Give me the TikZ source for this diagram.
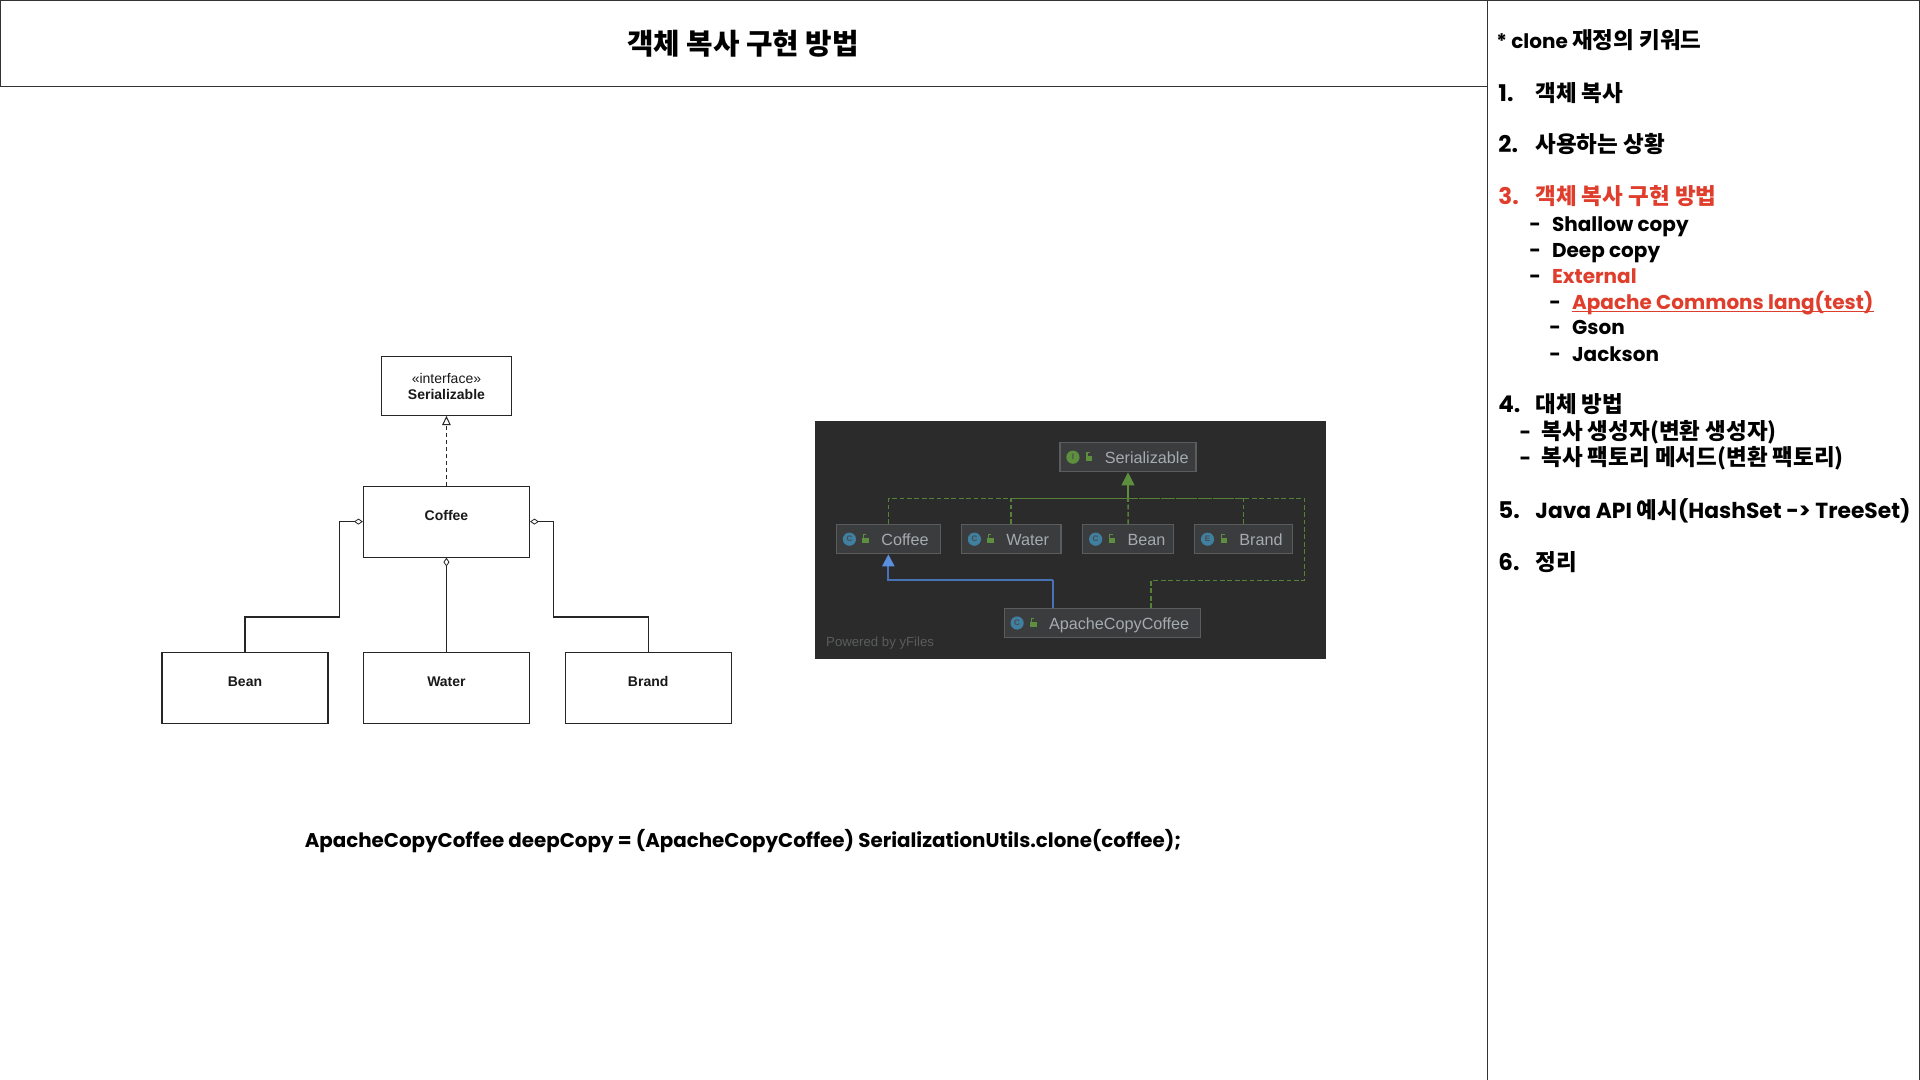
\documentclass[tikz,border=0pt]{standalone}
\usepackage{fontspec}
\usetikzlibrary{arrows.meta}
\setmainfont{Poppins}
\newfontfamily\krfont{Noto Sans CJK KR}
\newfontfamily\umlfont{Liberation Sans}
\newcommand{\kr}[1]{{\krfont\fontsize{11.25}{13}\selectfont\bfseries #1}}
\definecolor{hot}{HTML}{E03E2D}
\definecolor{panel}{HTML}{2B2B2B}
\definecolor{ijfill}{HTML}{3B3C3D}
\definecolor{ijline}{HTML}{5A5C5D}
\definecolor{ijtext}{HTML}{A4ABB2}
\definecolor{ijgreen}{HTML}{5E8F3F}
\definecolor{ijblue}{HTML}{5A8FE0}
\definecolor{ijcirc}{HTML}{3F7F9F}
\tikzset{
  listtext/.style={anchor=base west,inner sep=0,font=\fontsize{10}{12}\selectfont\bfseries},
  numtext/.style={listtext,font=\fontsize{11.5}{13}\selectfont\bfseries},
  widetext/.style={listtext,font=\fontsize{10.9}{13}\selectfont\bfseries},
  codetext/.style={anchor=center,inner sep=0,font=\fontsize{9.92}{12}\selectfont\bfseries},
  ubox/.style={draw=black!85,line width=.6pt,fill=white,inner sep=0,minimum height=35.5pt,minimum width=83pt},
  ulabel/.style={inner sep=0,font=\umlfont\fontsize{7}{8.4}\selectfont\bfseries,text=black!90,align=center},
  uline/.style={draw=black!85,line width=.6pt},
  aggr/.style={uline,-{Diamond[open,length=4.4pt,width=3pt,line width=.4pt]}},
  realize/.style={uline,dashed,dash pattern=on 2pt off 1.5pt,-{Triangle[open,length=4.6pt,width=4.2pt,line width=.5pt,fill=white]}},
  ijbox/.style={draw=ijline,fill=ijfill,line width=.6pt,inner sep=0,minimum height=14.5pt},
  ijlabel/.style={anchor=base west,inner sep=0,text=ijtext,font=\umlfont\fontsize{8.1}{9}\selectfont},
  ijdash/.style={draw=ijgreen!90!black,line width=.8pt,dash pattern=on 2.4pt off 1.3pt},
  ijicon/.style={circle,fill=#1,inner sep=0,minimum size=6.6pt,text=black!70,font=\umlfont\fontsize{4}{4}\selectfont\bfseries},
}
\newcommand{\ijnode}[7]{%
  % id, cx, cy, width, text, letter, icon colour
  \node[ijbox,minimum width=#4*.5pt] (#1) at (#2,#3) {};
  \begin{scope}[shift={(#1.west)}]
    \node[ijicon=#7] (#1icon) at (13.5,0) {#6};
    \fill[ijgreen] (26.5,-1.5) rectangle (33,4);
    \draw[ijgreen,line width=.6pt] (27.5,-1.5) -- (27.5,-4.5) -- (30.5,-4.5);
    \node[ijlabel] (#1text) at (45,6) {#5};
  \end{scope}
}
\begin{document}
\begin{tikzpicture}[x=.5pt,y=-.5pt]
\useasboundingbox (0,0) rectangle (1920,1080);
\fill[white] (0,0) rectangle (1920,1080);
% frames
\draw[black!80,line width=.5pt] (0,.5) rectangle (1487,87);
\draw[black!80,line width=.5pt] (1919.5,1081) -- (1919.5,.5) -- (1487,.5) -- (1487,1081);
\node[inner sep=0] (title) at (743,44) {\krfont\fontsize{14.4}{16}\selectfont\bfseries 객체 복사 구현 방법};

% UML
\node[ubox,minimum width=65.2pt,minimum height=29.5pt] (ser) at (446.45,385.7) {};
\node[ulabel] (serstereo) at (446.45,378.4) {\umlfont\fontsize{7}{8.4}\selectfont\mdseries «interface»};
\node[ulabel] (sername) at (446.45,394.3) {Serializable};
\node[ubox] (coffee) at (446.45,521.6) {};
\node[ulabel] (coffeename) at (446.45,515.5) {Coffee};
\node[ubox] (bean) at (245,688) {};
\node[ulabel] (beanname) at (245,681.8) {Bean};
\node[ubox] (water) at (446.45,688) {};
\node[ulabel] (watername) at (446.45,681.8) {Water};
\node[ubox] (brand) at (648.2,688) {};
\node[ulabel] (brandname) at (648.2,681.8) {Brand};
\coordinate (elbowL) at (339.7,617);
\coordinate (elbowR) at (553.2,617);
\draw[realize] (coffee.north) -- (ser.south);
\draw[aggr] (water.north) -- (coffee.south);
\draw[aggr] (bean.north) |- (elbowL) |- (coffee.west);
\draw[aggr] (brand.north) |- (elbowR) |- (coffee.east);

% IDE panel
\fill[panel] (814.8,421.4) rectangle (1325.5,659);
\ijnode{jser}{1128}{457.2}{136}{Serializable}{I}{ijgreen}
\ijnode{jcoffee}{888.35}{539.2}{103.7}{Coffee}{C}{ijcirc}
\ijnode{jwater}{1011.25}{539.2}{99.5}{Water}{C}{ijcirc}
\ijnode{jbean}{1128.15}{539.2}{90.9}{Bean}{C}{ijcirc}
\ijnode{jbrand}{1243.5}{539.2}{97.8}{Brand}{E}{ijcirc}
\ijnode{japache}{1102.15}{623}{195.9}{ApacheCopyCoffee}{C}{ijcirc}
\node[anchor=base west,inner sep=0,text=ijline,font=\umlfont\fontsize{6.6}{8}\selectfont] (yfiles) at (825.8,646) {Powered by yFiles};
\coordinate (hub) at (1128,498.4);
\coordinate (farR) at (1304.5,498.4);
\coordinate (farD) at (1304.5,580.4);
\coordinate (apacheUp) at (1151.2,580.4);
\coordinate (blueUp) at (1053.4,580.4);
\draw[ijdash] (jcoffee.north) |- (hub);
\draw[ijdash] (jwater.north) |- (hub);
\draw[ijdash] (jbean.north) -- (hub);
\draw[ijdash] (jbrand.north) |- (hub);
\draw[ijdash] (apacheUp |- japache.north) -- (apacheUp) -- (farD) -- (farR) -- (hub);
\draw[ijgreen,line width=.8pt,-{Triangle[length=6.5pt,width=6.4pt]}] (hub) -- (jser.south);
\draw[ijblue!80!black,line width=1pt] (blueUp |- japache.north) -- (blueUp);
\draw[ijblue!80!black,line width=1pt,-{Triangle[length=6pt,width=6pt,color=ijblue]}] (blueUp) -| (jcoffee.south);

% keyword list
\node[listtext] (l0a) at (1496,49) {* clone \kr{재정의 키워드}};
\node[numtext] (l1n) at (1498,101.7) {1.};
\node[listtext] (l1) at (1535,101.7) {\kr{객체 복사}};
\node[numtext] (l2n) at (1498,153) {2.};
\node[listtext] (l2) at (1535,153) {\kr{사용하는 상황}};
\node[numtext,text=hot] (l3n) at (1498,205) {3.};
\node[listtext,text=hot] (l3) at (1535,205) {\kr{객체 복사 구현 방법}};
\node[listtext] (d1) at (1529,231.7) {-};
\node[listtext] (s1) at (1551.7,231.7) {Shallow copy};
\node[listtext] (d2) at (1529,257.7) {-};
\node[listtext] (s2) at (1551.7,257.7) {Deep copy};
\node[listtext] (d3) at (1529,283.3) {-};
\node[listtext,text=hot] (s3) at (1551.7,283.3) {External};
\node[listtext] (d4) at (1549,309.3) {-};
\node[listtext,text=hot] (s4) at (1571.7,309.3) {Apache Commons lang(test)};
\draw[hot,line width=.6pt] ([yshift=-1.2pt]s4.base west) -- ([yshift=-1.2pt]s4.base east);
\node[listtext] (d5) at (1549,335) {-};
\node[listtext] (s5) at (1571.7,335) {Gson};
\node[listtext] (d6) at (1549,361.3) {-};
\node[listtext] (s6) at (1571.7,361.3) {Jackson};
\node[numtext] (l4n) at (1498,412.7) {4.};
\node[listtext] (l4) at (1535,412.7) {\kr{대체 방법}};
\node[listtext] (d7) at (1519.3,439.3) {-};
\node[listtext] (s7) at (1541,439.3) {\kr{복사 생성자(변환 생성자)}};
\node[listtext] (d8) at (1519.3,465.7) {-};
\node[listtext] (s8) at (1541,465.7) {\kr{복사 팩토리 메서드(변환 팩토리)}};
\node[numtext] (l5n) at (1498,518.3) {5.};
\node[widetext] (l5) at (1535,518.3) {Java API \kr{예시}(HashSet -> TreeSet)};
\node[numtext] (l6n) at (1498,570) {6.};
\node[listtext] (l6) at (1535,570) {\kr{정리}};

% code line
\node[codetext] (code) at (743,841) {ApacheCopyCoffee deepCopy = (ApacheCopyCoffee) SerializationUtils.clone(coffee);};
\end{tikzpicture}
\end{document}
